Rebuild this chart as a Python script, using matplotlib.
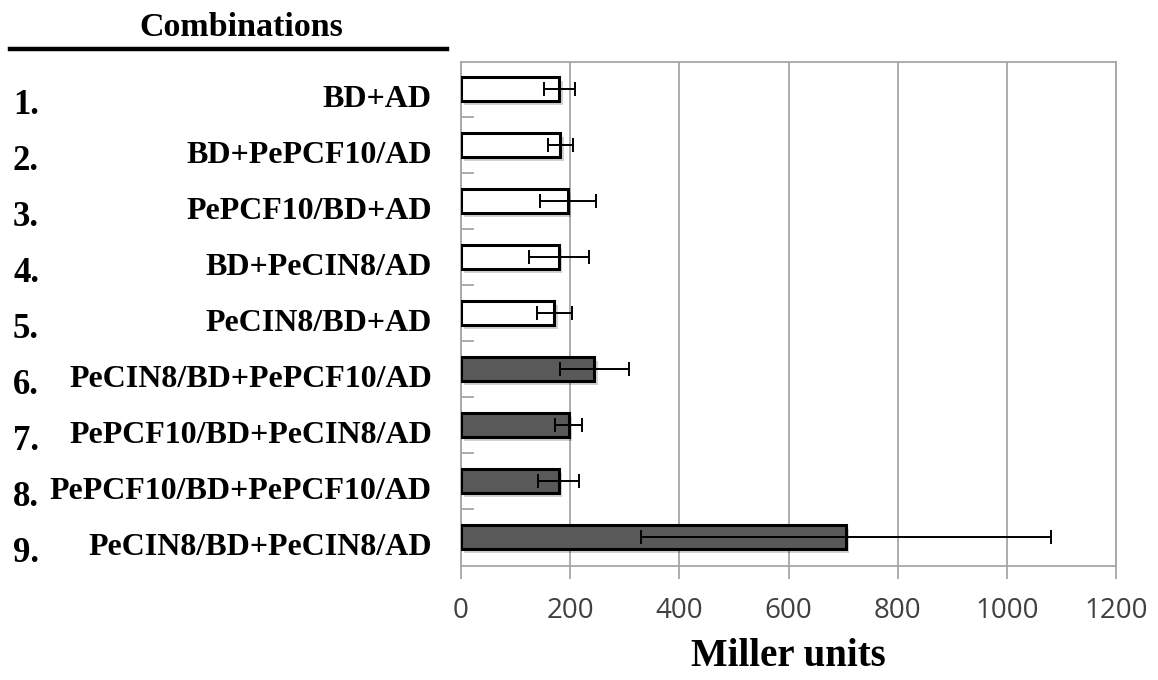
import matplotlib
matplotlib.use("Agg")
import matplotlib.pyplot as plt
import matplotlib.transforms as mtransforms
import matplotlib.patheffects as pe
from matplotlib.lines import Line2D

combinations = ["BD+AD", "BD+PePCF10/AD", "PePCF10/BD+AD", "BD+PeCIN8/AD",
                "PeCIN8/BD+AD", "PeCIN8/BD+PePCF10/AD", "PePCF10/BD+PeCIN8/AD",
                "PePCF10/BD+PePCF10/AD", "PeCIN8/BD+PeCIN8/AD"]
numbers = ["1.", "2.", "3.", "4.", "5.", "6.", "7.", "8.", "9."]
miller_units = [180, 182, 196, 179, 171, 244, 197, 179, 705]
errors = [28, 23, 52, 55, 32, 63, 25, 38, 376]
filled = [False, False, False, False, False, True, True, True, True]
x_ticks = [0, 200, 400, 600, 800, 1000, 1200]

W, H, DPI = 1158, 680, 100
fig = plt.figure(figsize=(W / DPI, H / DPI), dpi=DPI)
ax = fig.add_axes([461 / W, 1 - 566 / H, (1116 - 461) / W, (566 - 62) / H])

serif = "Liberation Serif"
grid_c = "#a6a6a6"
ypos = list(range(len(combinations)))
colors = ["#595959" if f else "white" for f in filled]

bars = ax.barh(ypos, miller_units, height=0.43, color=colors, edgecolor="black",
               linewidth=2.2, zorder=3)
for b in bars:
    b.set_path_effects([pe.SimplePatchShadow(offset=(2.5, -3), shadow_rgbFace="#000000", alpha=0.18),
                        pe.Normal()])
ax.errorbar(miller_units, ypos, xerr=errors, fmt="none", ecolor="black",
            elinewidth=1.4, capsize=5, capthick=1.4, zorder=4)

ax.set_xlim(0, 1200)
ax.set_ylim(8.52, -0.48)
ax.set_xticks(x_ticks)
ax.set_xticklabels([str(t) for t in x_ticks], fontsize=20, family="Open Sans", color="#404040")
ax.tick_params(axis="x", direction="out", length=9, width=1.3, color=grid_c, pad=13)
ax.xaxis.grid(True, color=grid_c, linewidth=1.3, zorder=0)
ax.set_axisbelow(True)

ax.set_yticks([i + 0.5 for i in range(len(combinations) - 1)])
ax.set_yticklabels([])
ax.tick_params(axis="y", direction="in", length=9, width=1.3, color=grid_c)
for s in ax.spines.values():
    s.set_color(grid_c)
    s.set_linewidth(1.3)

# category labels and numbers
lab_tr = mtransforms.blended_transform_factory(fig.transFigure, ax.transData) + \
    mtransforms.ScaledTranslation(0, -11 / DPI, fig.dpi_scale_trans)
num_tr = mtransforms.blended_transform_factory(fig.transFigure, ax.transData) + \
    mtransforms.ScaledTranslation(0, -17 / DPI, fig.dpi_scale_trans)
for i, (lab, num) in enumerate(zip(combinations, numbers)):
    ax.text(432 / W, i, lab, transform=lab_tr, ha="right", va="center",
            fontsize=23, fontweight="bold", family=serif, clip_on=False)
    ax.text(13 / W, i, num, transform=num_tr, ha="left", va="center",
            fontsize=25, fontweight="bold", family=serif, clip_on=False)

fig.text(241 / W, 1 - 27 / H, "Combinations", ha="center", va="center",
         fontsize=24.5, fontweight="bold", family=serif)
fig.add_artist(Line2D([10 / W, 447 / W], [1 - 49 / H, 1 - 49 / H], color="black",
                      linewidth=3.2, transform=fig.transFigure))
fig.text(788 / W, 1 - 656 / H, "Miller units", ha="center", va="center",
         fontsize=28, fontweight="bold", family=serif)

fig.savefig("out.png", dpi=DPI, facecolor="white")
